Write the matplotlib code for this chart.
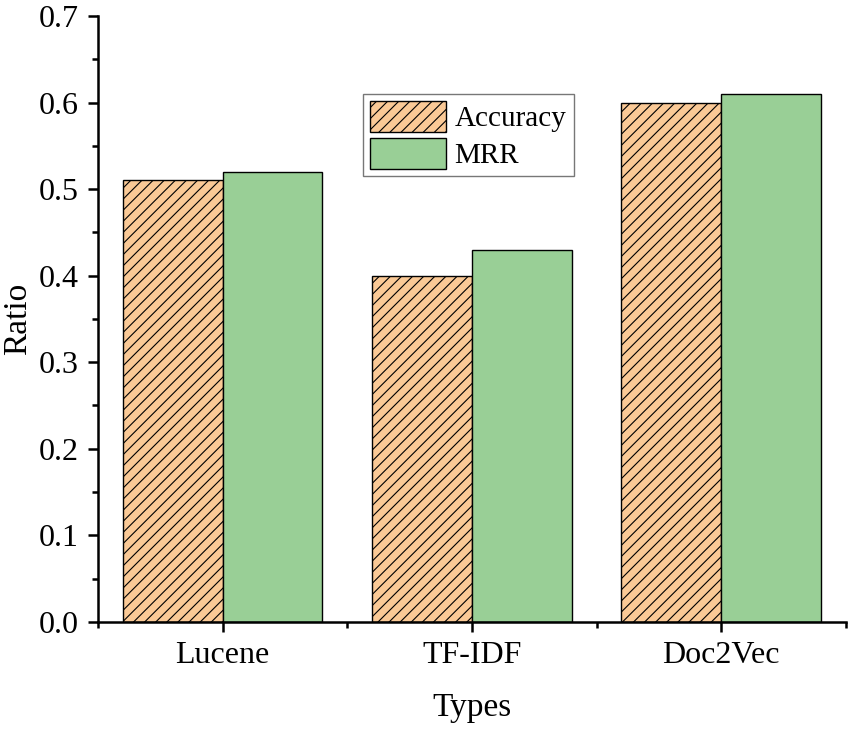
import numpy as np
import matplotlib
matplotlib.use("Agg")
import matplotlib.pyplot as plt
from matplotlib.ticker import MultipleLocator

plt.rcParams['font.family'] = ['Liberation Serif', 'DejaVu Serif']
plt.rcParams['hatch.linewidth'] = 0.8

categories: list[str] = ['Lucene', 'TF-IDF', 'Doc2Vec']
accuracy: list[float] = [0.51, 0.40, 0.60]
mrr: list[float] = [0.52, 0.43, 0.61]

x = np.arange(len(categories))
width = 0.4

fig = plt.figure(figsize=(8.51, 7.29), dpi=100)
ax = fig.add_axes([0.115, 0.147, 0.879, 0.831])

ax.bar(x - width / 2, accuracy, width, color='#FAC996', edgecolor='black',
       linewidth=1.0, hatch='///', label='Accuracy')
ax.bar(x + width / 2, mrr, width, color='#99CF96', edgecolor='black',
       linewidth=1.0, label='MRR')

ax.set_xlim(-0.5, 2.5)
ax.set_ylim(0, 0.7)
ax.set_xticks(x)
ax.set_xticklabels(categories)
ax.xaxis.set_minor_locator(MultipleLocator(1.0, offset=0.5))
ax.yaxis.set_major_locator(MultipleLocator(0.1))
ax.yaxis.set_minor_locator(MultipleLocator(0.05))
ax.yaxis.set_major_formatter(matplotlib.ticker.FormatStrFormatter('%.1f'))

for side in ['top', 'right']:
    ax.spines[side].set_visible(False)
for side in ['left', 'bottom']:
    ax.spines[side].set_linewidth(1.8)

ax.tick_params(which='major', direction='out', length=7, width=1.8,
               labelsize=23, pad=7)
ax.tick_params(which='minor', direction='out', length=4, width=1.8)

ax.set_xlabel('Types', fontsize=24, labelpad=16)
ax.set_ylabel('Ratio', fontsize=24)
ax.yaxis.set_label_coords(-0.086, 0.5)

leg = ax.legend(loc='upper left', bbox_to_anchor=(0.354, 0.872), fontsize=21,
                frameon=True, fancybox=False, edgecolor='#555555',
                handlelength=2.6, handleheight=1.25, borderpad=0.25,
                labelspacing=0.2, handletextpad=0.3, borderaxespad=0)
leg.get_frame().set_linewidth(1.0)

fig.savefig('out.png', dpi=100)
